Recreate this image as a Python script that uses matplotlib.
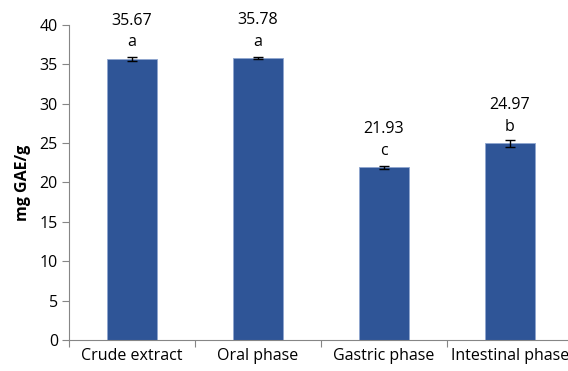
import matplotlib.pyplot as plt
import numpy as np

plt.rcParams['font.family'] = ['Open Sans', 'DejaVu Sans']

phases = ['Crude extract', 'Oral phase', 'Gastric phase', 'Intestinal phase']
gae = [35.67, 35.78, 21.93, 24.97]
gae_err = [0.30, 0.15, 0.20, 0.40]
letters = ['a', 'a', 'c', 'b']


def plot_gae():
    fig = plt.figure(figsize=(5.68, 3.71), dpi=100)
    ax = fig.add_axes([0.1215, 0.0836, 0.887, 0.849])
    x = np.arange(len(phases))
    ax.bar(x, gae, width=0.4, color='#2F5597', edgecolor='#8FA6CF',
           linewidth=0.6, zorder=2)
    ax.errorbar(x, gae, yerr=gae_err, fmt='none', ecolor='black',
                elinewidth=1, capsize=3.5, capthick=1, zorder=3)

    # value and significance letter above each bar
    for xi, v, s in zip(x, gae, letters):
        ax.annotate(f'{v:.2f}', (xi, v), xytext=(0, 27.5),
                    textcoords='offset points', ha='center', va='center',
                    fontsize=11.5)
        ax.annotate(s, (xi, v), xytext=(0, 12), textcoords='offset points',
                    ha='center', va='center', fontsize=11.5)

    ax.set_xlim(-0.5, 3.5)
    ax.set_ylim(0, 40)
    ax.set_yticks(range(0, 41, 5))
    ax.set_xticks(np.arange(-0.5, 4, 1))
    ax.set_xticklabels([])
    ax.set_xticks(x, minor=True)
    ax.set_xticklabels(phases, minor=True)
    ax.tick_params(axis='x', which='minor', length=0, pad=6, labelsize=11.5)
    ax.tick_params(axis='x', which='major', length=5, color='#868686')
    ax.tick_params(axis='y', length=5, color='#868686', labelsize=11.5, pad=3)
    ax.set_ylabel('mg GAE/g', fontsize=11.5, fontweight='bold', labelpad=6)

    for side in ['top', 'right']:
        ax.spines[side].set_visible(False)
    for side in ['left', 'bottom']:
        ax.spines[side].set_color('#868686')

    fig.savefig('out.png', dpi=100)


if __name__ == '__main__':
    plot_gae()
